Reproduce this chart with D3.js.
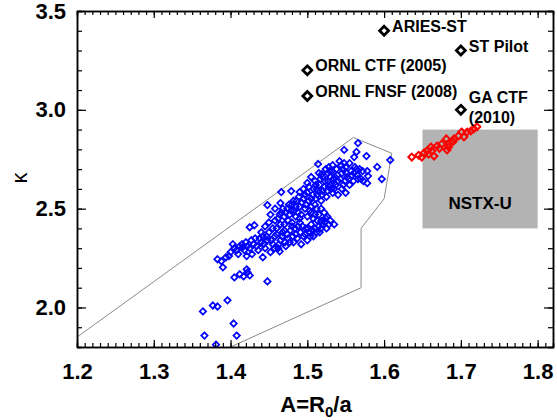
<!DOCTYPE html>
<html>
<head>
<meta charset="utf-8">
<script src="https://d3js.org/d3.v7.min.js"></script>
<style>
  body { margin: 0; background: white; }
  svg text { font-family: "Liberation Sans", Arial, sans-serif; }
</style>
</head>
<body>
<div id="chart"></div>
<script>
    // blue: existing device / scan points (A, kappa)
    let bluePoints = [
        [1.364, 1.980], [1.377, 2.010], [1.383, 2.005], [1.396, 2.036], [1.404, 1.919],
        [1.408, 1.858], [1.366, 1.858], [1.381, 1.812], [1.448, 2.132], [1.405, 2.152],
        [1.412, 2.168], [1.421, 2.193], [1.422, 2.178], [1.417, 2.157], [1.425, 2.162],
        [1.390, 2.203], [1.383, 2.244], [1.388, 2.234], [1.394, 2.254], [1.416, 2.305],
        [1.442, 2.254], [1.425, 2.406], [1.431, 2.416], [1.464, 2.284], [1.448, 2.518],
        [1.465, 2.528], [1.466, 2.584], [1.479, 2.589], [1.490, 2.584], [1.514, 2.726],
        [1.519, 2.675], [1.529, 2.690], [1.566, 2.832], [1.548, 2.797], [1.564, 2.787],
        [1.561, 2.761], [1.577, 2.766], [1.608, 2.746], [1.591, 2.711], [1.578, 2.690],
        [1.579, 2.665], [1.597, 2.650], [1.573, 2.640], [1.578, 2.629], [1.521, 2.442],
        [1.518, 2.437], [1.524, 2.452], [1.398, 2.260], [1.421, 2.260],
        // lower band
        [1.400, 2.28], [1.405, 2.30], [1.410, 2.27], [1.412, 2.31], [1.418, 2.29],
        [1.420, 2.33], [1.425, 2.30], [1.428, 2.27], [1.430, 2.32], [1.432, 2.35],
        [1.436, 2.29], [1.440, 2.33], [1.442, 2.36], [1.445, 2.30], [1.448, 2.34],
        [1.450, 2.38], [1.452, 2.28], [1.455, 2.32], [1.458, 2.36], [1.460, 2.40],
        [1.462, 2.30], [1.465, 2.34], [1.468, 2.38], [1.470, 2.42], [1.472, 2.31],
        [1.475, 2.35], [1.478, 2.39], [1.480, 2.43], [1.482, 2.33], [1.485, 2.37],
        [1.488, 2.41], [1.490, 2.45], [1.492, 2.32], [1.495, 2.36], [1.498, 2.40],
        [1.500, 2.34], [1.503, 2.38], [1.505, 2.42], [1.508, 2.36], [1.510, 2.40],
        [1.513, 2.44], [1.516, 2.38], [1.520, 2.42], [1.525, 2.40], [1.530, 2.44],
        [1.535, 2.42],
        [1.403, 2.32], [1.408, 2.29], [1.415, 2.32], [1.422, 2.31], [1.427, 2.34],
        [1.434, 2.31], [1.438, 2.35], [1.443, 2.32], [1.447, 2.36], [1.453, 2.34],
        [1.457, 2.30], [1.460, 2.37], [1.463, 2.32], [1.467, 2.36], [1.471, 2.33],
        [1.474, 2.37], [1.477, 2.33], [1.481, 2.36], [1.484, 2.40], [1.487, 2.35],
        [1.491, 2.38], [1.494, 2.41], [1.497, 2.37], [1.501, 2.40], [1.504, 2.36],
        [1.507, 2.39], [1.512, 2.38], [1.515, 2.41], [1.518, 2.40], [1.523, 2.43],
        [1.528, 2.42],
        // join
        [1.440, 2.38], [1.445, 2.41], [1.450, 2.43], [1.455, 2.40], [1.458, 2.44],
        [1.452, 2.47], [1.458, 2.50], [1.465, 2.42], [1.470, 2.39], [1.475, 2.44],
        [1.480, 2.41], [1.485, 2.46], [1.490, 2.43],
        [1.500, 2.46], [1.505, 2.48], [1.508, 2.45], [1.512, 2.50], [1.515, 2.47],
        [1.518, 2.50], [1.522, 2.48], [1.526, 2.46], [1.510, 2.47], [1.505, 2.51],
        // middle ridge
        [1.462, 2.45], [1.466, 2.48], [1.470, 2.46], [1.474, 2.50], [1.477, 2.47],
        [1.480, 2.52], [1.483, 2.49], [1.486, 2.54], [1.490, 2.51], [1.492, 2.47],
        [1.495, 2.55], [1.498, 2.52], [1.500, 2.58], [1.503, 2.49], [1.505, 2.55],
        [1.508, 2.60], [1.510, 2.52], [1.513, 2.57], [1.516, 2.62], [1.518, 2.54],
        [1.520, 2.59], [1.523, 2.64], [1.525, 2.56], [1.528, 2.61], [1.530, 2.66],
        [1.533, 2.58], [1.535, 2.63],
        [1.495, 2.60], [1.500, 2.63], [1.505, 2.66], [1.510, 2.64], [1.515, 2.68],
        [1.512, 2.60],
        [1.464, 2.47], [1.468, 2.50], [1.472, 2.48], [1.476, 2.52], [1.479, 2.49],
        [1.482, 2.54], [1.485, 2.51], [1.488, 2.48], [1.489, 2.56], [1.493, 2.53],
        [1.497, 2.50], [1.497, 2.57], [1.502, 2.54], [1.502, 2.61], [1.507, 2.57],
        [1.511, 2.55], [1.511, 2.62], [1.514, 2.59], [1.517, 2.65], [1.519, 2.57],
        [1.522, 2.61], [1.526, 2.59], [1.527, 2.64], [1.531, 2.60], [1.534, 2.65],
        // upper blob
        [1.520, 2.66], [1.524, 2.70], [1.527, 2.68], [1.530, 2.62], [1.533, 2.72],
        [1.536, 2.66], [1.538, 2.70], [1.540, 2.64], [1.542, 2.74], [1.545, 2.68],
        [1.547, 2.62], [1.550, 2.71], [1.552, 2.66], [1.555, 2.73], [1.557, 2.69],
        [1.560, 2.64], [1.562, 2.71], [1.565, 2.67], [1.568, 2.70], [1.570, 2.65],
        [1.572, 2.69], [1.545, 2.60], [1.550, 2.58], [1.555, 2.62], [1.540, 2.57],
        [1.535, 2.60],
        [1.537, 2.62], [1.539, 2.67], [1.543, 2.65], [1.546, 2.70], [1.549, 2.64],
        [1.551, 2.68], [1.554, 2.65], [1.558, 2.67], [1.561, 2.68], [1.564, 2.70],
        [1.566, 2.65], [1.532, 2.69], [1.528, 2.71], [1.544, 2.72], [1.548, 2.73]
    ];

    // red: NSTX-U operating points
    let redPoints = [
        [1.636, 2.761], [1.649, 2.761], [1.652, 2.782], [1.656, 2.792], [1.661, 2.812],
        [1.662, 2.792], [1.665, 2.766], [1.669, 2.817], [1.675, 2.827], [1.681, 2.853],
        [1.684, 2.812], [1.684, 2.827], [1.682, 2.797], [1.691, 2.853], [1.697, 2.868],
        [1.701, 2.888], [1.708, 2.888], [1.713, 2.893], [1.717, 2.904], [1.721, 2.914],
        [1.704, 2.863], [1.672, 2.805], [1.658, 2.775], [1.645, 2.770], [1.690, 2.840]
    ];

    // black: design studies
    let designNames = ["ARIES-ST", "ST Pilot", "ORNL CTF (2005)", "ORNL FNSF (2008)", "GA CTF|(2010)"];
    let designA = [1.6, 1.7, 1.5, 1.5, 1.7];
    let designKappa = [3.4, 3.3, 3.2, 3.07, 3.0];

    // outline of existing device region
    let regionOutline = [
        [1.2, 1.85], [1.56, 2.86], [1.61, 2.78], [1.60, 2.55], [1.57, 2.40],
        [1.57, 2.10], [1.40, 1.80]
    ];

    let nstxBox = { a0: 1.65, a1: 1.8, k0: 2.4, k1: 2.9, name: "NSTX-U" };

    let xMajor = [1.2, 1.3, 1.4, 1.5, 1.6, 1.7, 1.8];
    let yMajor = [2.0, 2.5, 3.0, 3.5];

    let width = 557, height = 420;
    let margin = { left: 77, right: 4, top: 11, bottom: 73 };

    let svg = d3.select("#chart").append("svg")
        .attr("width", width)
        .attr("height", height);

    let x = d3.scaleLinear().domain([1.2, 1.82]).range([margin.left, width - margin.right]);
    let y = d3.scaleLinear().domain([1.8, 3.5]).range([height - margin.bottom, margin.top]);

    svg.append("clipPath").attr("id", "plotclip")
        .append("rect")
        .attr("x", x.range()[0]).attr("y", y.range()[1])
        .attr("width", x.range()[1] - x.range()[0])
        .attr("height", y.range()[0] - y.range()[1]);

    let plot = svg.append("g").attr("clip-path", "url(#plotclip)");

    plot.append("path")
        .datum(regionOutline)
        .attr("d", d3.line().x(d => x(d[0])).y(d => y(d[1])))
        .attr("fill", "none")
        .attr("stroke", "#8a8a8a")
        .attr("stroke-width", 1);

    plot.append("rect")
        .attr("x", x(nstxBox.a0))
        .attr("y", y(nstxBox.k1))
        .attr("width", x(nstxBox.a1) - x(nstxBox.a0))
        .attr("height", y(nstxBox.k0) - y(nstxBox.k1))
        .attr("fill", "#b3b3b3");

    svg.append("text")
        .attr("x", (x(nstxBox.a0) + x(nstxBox.a1)) / 2)
        .attr("y", y(2.53) + 6)
        .attr("text-anchor", "middle")
        .attr("font-size", 17)
        .attr("font-weight", "bold")
        .text(nstxBox.name);

    function diamond(r) {
        return "M0," + (-r) + "L" + r + ",0L0," + r + "L" + (-r) + ",0Z";
    }

    plot.selectAll("path.blue")
        .data(bluePoints)
        .enter().append("path")
        .attr("class", "blue")
        .attr("d", diamond(3.2))
        .attr("transform", d => "translate(" + x(d[0]) + "," + y(d[1]) + ")")
        .attr("fill", "none")
        .attr("stroke", "#0000ff")
        .attr("stroke-width", 1.7);

    plot.selectAll("path.red")
        .data(redPoints)
        .enter().append("path")
        .attr("class", "red")
        .attr("d", diamond(3.4))
        .attr("transform", d => "translate(" + x(d[0]) + "," + y(d[1]) + ")")
        .attr("fill", "none")
        .attr("stroke", "#ff0000")
        .attr("stroke-width", 2);

    let designs = designNames.map((n, i) => ({ name: n, a: designA[i], k: designKappa[i] }));

    plot.selectAll("path.design")
        .data(designs)
        .enter().append("path")
        .attr("class", "design")
        .attr("d", diamond(4.5))
        .attr("transform", d => "translate(" + x(d.a) + "," + y(d.k) + ")")
        .attr("fill", "none")
        .attr("stroke", "#000")
        .attr("stroke-width", 2.7);

    designs.forEach(d => {
        let lines = d.name.split("|");
        let t = svg.append("text")
            .attr("x", x(d.a) + 8)
            .attr("y", y(d.k) + (lines.length > 1 ? -7 : 1))
            .attr("font-size", 16)
            .attr("font-weight", "bold");
        lines.forEach((l, j) => {
            t.append("tspan").attr("x", x(d.a) + 8).attr("dy", j === 0 ? 0 : 20).text(l);
        });
    });

    // axes: inward ticks on all four sides
    let xMinor = d3.range(1.2, 1.8201, 0.01).map(v => +v.toFixed(2));
    let yMinor = d3.range(1.8, 3.501, 0.1).map(v => +v.toFixed(1));

    function styleAxis(g) {
        g.select(".domain").attr("stroke-width", 1.5);
        g.selectAll(".tick line").attr("stroke-width", 1.2);
    }

    svg.append("g")
        .attr("transform", "translate(0," + y.range()[0] + ")")
        .call(d3.axisBottom(x).tickValues(xMinor).tickSize(-4).tickFormat(""))
        .call(styleAxis);
    svg.append("g")
        .attr("transform", "translate(0," + y.range()[0] + ")")
        .call(d3.axisBottom(x).tickValues(xMajor).tickSizeInner(-7).tickSizeOuter(0).tickPadding(16).tickFormat(d3.format(".1f")))
        .call(styleAxis)
        .call(g => g.selectAll("text").attr("font-size", 22).attr("font-weight", "bold").attr("fill", "#000"));

    svg.append("g")
        .attr("transform", "translate(0," + y.range()[1] + ")")
        .call(d3.axisTop(x).tickValues(xMinor).tickSize(-4).tickFormat(""))
        .call(styleAxis);
    svg.append("g")
        .attr("transform", "translate(0," + y.range()[1] + ")")
        .call(d3.axisTop(x).tickValues(xMajor).tickSizeInner(-7).tickSizeOuter(0).tickFormat(""))
        .call(styleAxis);

    svg.append("g")
        .attr("transform", "translate(" + x.range()[0] + ",0)")
        .call(d3.axisLeft(y).tickValues(yMinor).tickSize(-5).tickFormat(""))
        .call(styleAxis);
    svg.append("g")
        .attr("transform", "translate(" + x.range()[0] + ",0)")
        .call(d3.axisLeft(y).tickValues(yMajor).tickSizeInner(-9).tickSizeOuter(0).tickPadding(11).tickFormat(d3.format(".1f")))
        .call(styleAxis)
        .call(g => g.selectAll("text").attr("font-size", 22).attr("font-weight", "bold").attr("fill", "#000"));

    svg.append("g")
        .attr("transform", "translate(" + x.range()[1] + ",0)")
        .call(d3.axisRight(y).tickValues(yMinor).tickSize(-5).tickFormat(""))
        .call(styleAxis);
    svg.append("g")
        .attr("transform", "translate(" + x.range()[1] + ",0)")
        .call(d3.axisRight(y).tickValues(yMajor).tickSizeInner(-9).tickSizeOuter(0).tickFormat(""))
        .call(styleAxis);

    // axis titles
    let xt = svg.append("text")
        .attr("x", (x.range()[0] + x.range()[1]) / 2 + 1)
        .attr("y", 412)
        .attr("text-anchor", "middle")
        .attr("font-size", 22)
        .attr("font-weight", "bold");
    xt.append("tspan").text("A=R");
    xt.append("tspan").attr("font-size", 15).attr("dy", 5).text("0");
    xt.append("tspan").attr("dy", -5).text("/a");

    svg.append("text")
        .attr("transform", "translate(27,178) rotate(-90)")
        .attr("text-anchor", "middle")
        .attr("font-size", 22)
        .text("κ");
</script>
</body>
</html>
